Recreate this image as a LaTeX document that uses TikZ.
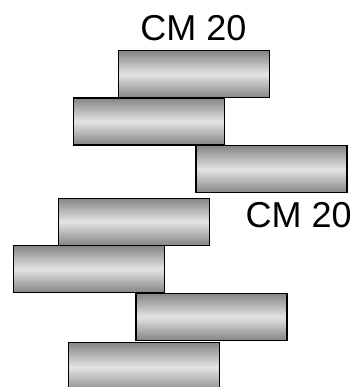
\documentclass[tikz,border=0pt]{standalone}
\usepackage{fontspec}
\setmainfont{Liberation Sans}
\definecolor{bardark}{HTML}{858585}
\definecolor{barlight}{HTML}{E4E4E4}
\tikzset{
  bar/.style={draw=black, line width=1.2pt, top color=bardark, bottom color=bardark, middle color=barlight, minimum width=151pt, minimum height=47pt, inner sep=0pt, outer sep=0pt, anchor=north west},
  lbl/.style={font=\fontsize{36}{40}\selectfont, inner sep=0pt, text=black}
}
\begin{document}
\begin{tikzpicture}[x=1pt,y=-1pt]
\useasboundingbox (0,0) rectangle (358,387);
\clip (0,0) rectangle (358,387);
\node[bar] (b1) at (118.5,50.7) {};
\node[bar] (b2) at (73.5,98) {};
\node[bar] (b3) at (196,145.7) {};
\node[bar] (b4) at (58.5,198.3) {};
\node[bar] (b5) at (13.5,245.5) {};
\node[bar] (b6) at (136,293.3) {};
\node[bar, minimum height=50pt] (b7) at (68.5,342.3) {};
\node[lbl] (t1) at (193.5,28.5) {CM 20};
\node[lbl] (t2) at (298.7,215) {CM 20};
\end{tikzpicture}
\end{document}
